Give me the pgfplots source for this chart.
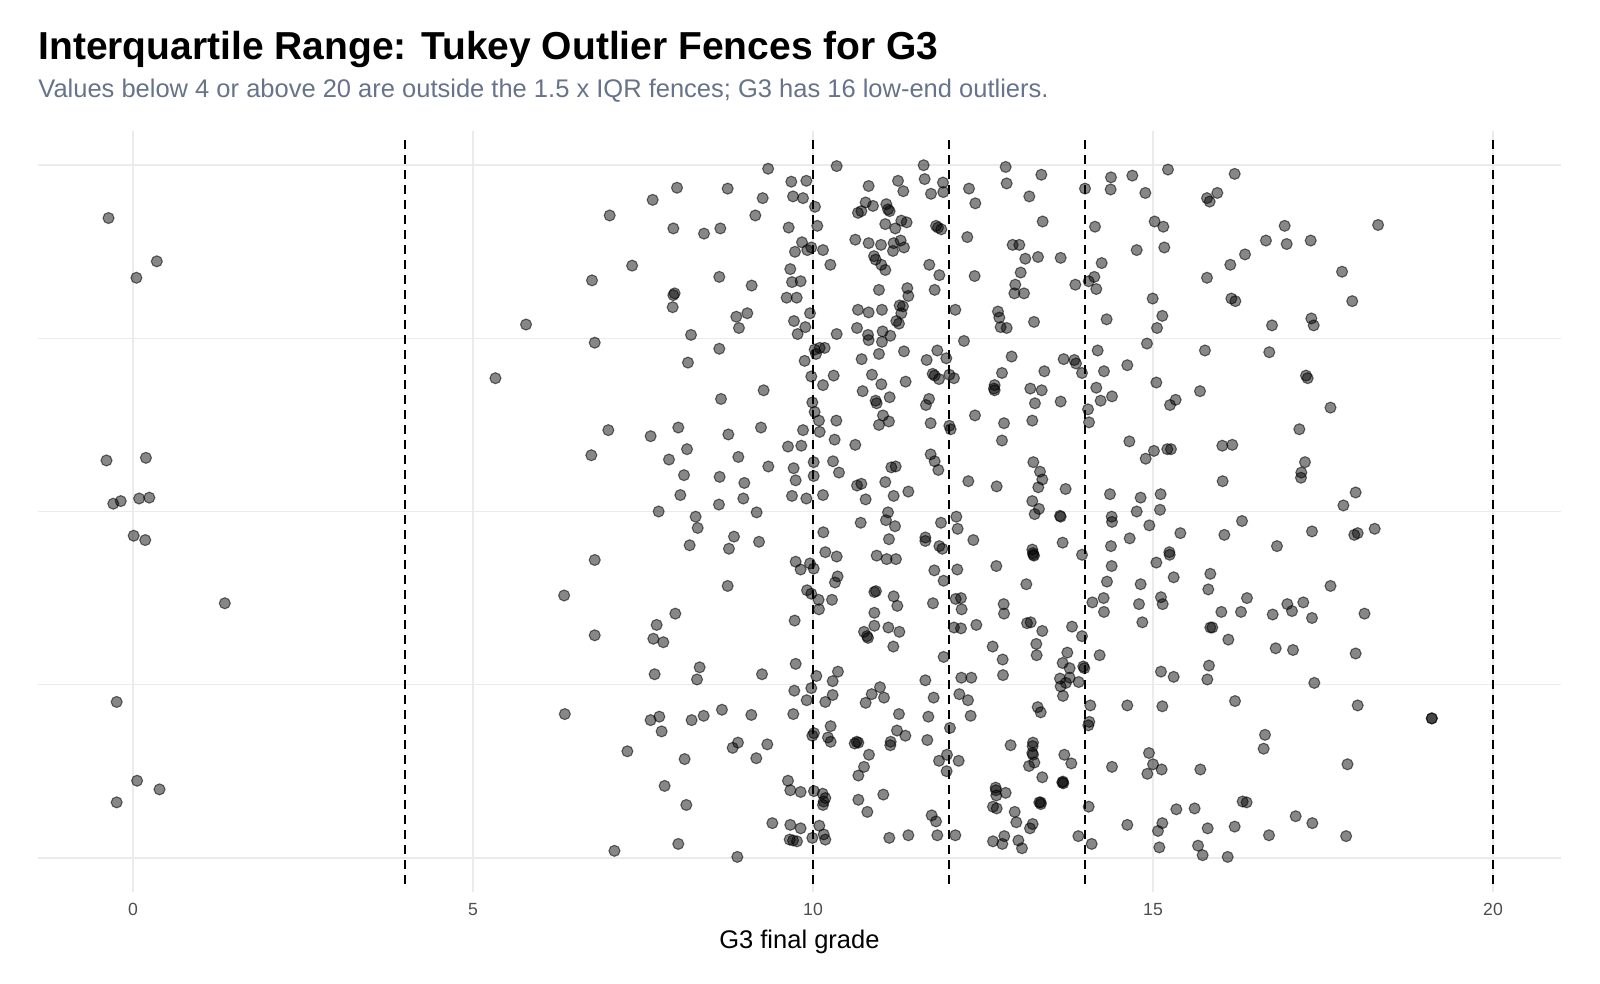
\documentclass[border=0pt]{standalone}
\usepackage{fontspec}
\setmainfont{Liberation Sans}
\usepackage{pgfplots}
\pgfplotsset{compat=1.18}
\usepackage{pgfplotstable}
\definecolor{gridc}{HTML}{EBEBEB}
\definecolor{subc}{HTML}{66738A}
\definecolor{tickc}{HTML}{4D4D4D}
\pgfplotstableread{
x y
-0.36 1.339
0.35 1.289
0.05 1.270
0.19 1.062
-0.39 1.059
-0.29 1.009
-0.18 1.012
0.09 1.015
0.24 1.016
0.01 0.972
0.18 0.967
-0.24 0.780
0.06 0.689
0.39 0.679
-0.24 0.664
1.35 0.894
5.33 1.154
5.78 1.216
6.34 0.903
6.35 0.766
7.01 1.342
7.34 1.284
6.75 1.267
6.79 1.195
6.99 1.094
6.74 1.065
6.79 0.944
6.79 0.857
7.27 0.723
7.08 0.608
}\lowtab
\pgfplotstableread{
x y
9.34 1.396
8.00 1.374
8.745 1.373
7.642 1.360
9.26 1.362
9.152 1.342
7.946 1.327
8.397 1.321
8.637 1.327
8.622 1.271
9.098 1.261
7.965 1.252
7.946 1.250
7.936 1.236
8.872 1.225
9.034 1.229
8.911 1.212
8.206 1.204
8.622 1.188
8.161 1.172
8.647 1.130
9.274 1.140
8.019 1.097
7.612 1.087
8.755 1.089
9.235 1.097
8.147 1.072
7.882 1.060
8.902 1.063
9.343 1.052
8.103 1.042
8.627 1.040
8.99 1.033
8.049 1.019
8.617 1.008
8.975 1.015
7.73 1.000
8.274 0.994
9.171 0.999
8.304 0.981
8.838 0.971
8.186 0.961
8.764 0.957
9.206 0.965
8.745 0.914
7.975 0.882
7.701 0.869
7.652 0.853
7.799 0.849
7.671 0.812
8.333 0.820
8.294 0.806
9.25 0.812
7.612 0.759
7.740 0.763
8.215 0.759
8.392 0.764
8.661 0.771
9.093 0.765
7.774 0.746
8.818 0.727
8.897 0.733
9.328 0.731
8.112 0.714
9.166 0.715
7.818 0.683
8.137 0.661
9.402 0.640
8.019 0.616
8.887 0.601
}\gaeighttab
\pgfplotstableread{
x y
10.348 1.399
9.681 1.381
9.902 1.382
9.706 1.364
9.853 1.362
10.029 1.352
9.642 1.328
10.063 1.330
9.838 1.311
9.975 1.305
9.916 1.302
9.735 1.300
10.147 1.302
10.255 1.285
9.666 1.280
9.691 1.265
9.818 1.266
9.612 1.247
9.760 1.247
9.956 1.229
9.720 1.220
9.887 1.213
9.774 1.205
10.348 1.205
10.024 1.187
10.098 1.189
10.171 1.189
10.044 1.182
9.877 1.174
9.975 1.156
10.304 1.157
10.147 1.146
9.99 1.126
10.024 1.115
10.088 1.105
10.343 1.105
9.853 1.094
10.098 1.092
9.632 1.075
9.828 1.076
10.318 1.083
10.01 1.057
10.294 1.058
9.715 1.050
10.382 1.045
9.745 1.036
10.01 1.041
9.691 1.018
9.902 1.015
10.147 1.019
10.152 0.976
10.181 0.953
10.348 0.948
9.745 0.942
9.956 0.940
9.818 0.933
10.01 0.934
10.362 0.925
10.323 0.918
9.912 0.909
9.975 0.905
10.083 0.898
10.279 0.898
10.088 0.887
9.73 0.874
9.745 0.824
10.049 0.810
10.367 0.815
10.289 0.804
9.725 0.793
9.975 0.796
9.907 0.782
10.181 0.780
10.289 0.788
9.71 0.766
10.259 0.752
10.014 0.744
9.99 0.741
10.22 0.739
10.259 0.734
9.632 0.689
9.666 0.678
9.818 0.676
10.014 0.677
10.142 0.674
10.181 0.669
10.157 0.665
10.147 0.661
9.666 0.638
9.818 0.634
10.093 0.637
10.157 0.627
10.181 0.621
9.99 0.623
9.657 0.621
9.706 0.620
9.764 0.619
}\gtentab
\pgfplotstableread{
x y
10.818 1.376
11.25 1.382
11.328 1.370
10.774 1.357
10.882 1.353
11.078 1.355
10.661 1.345
10.711 1.347
11.103 1.349
11.127 1.347
11.299 1.336
11.377 1.334
11.063 1.332
11.21 1.327
10.622 1.314
10.818 1.310
11.0 1.308
11.186 1.310
11.289 1.313
11.338 1.305
11.176 1.301
10.897 1.295
10.921 1.291
11.005 1.285
11.063 1.279
10.97 1.256
11.387 1.258
11.402 1.249
10.661 1.233
10.818 1.230
11.014 1.233
11.274 1.238
11.323 1.237
11.299 1.229
11.225 1.220
11.264 1.217
10.647 1.212
10.809 1.204
10.818 1.198
11.024 1.208
11.137 1.203
11.014 1.196
10.715 1.176
10.97 1.182
11.338 1.185
10.867 1.158
11.005 1.147
11.362 1.150
10.73 1.139
10.921 1.128
10.936 1.125
11.127 1.132
11.029 1.111
11.117 1.104
10.97 1.100
10.622 1.077
11.152 1.051
11.216 1.052
10.647 1.030
10.711 1.032
11.063 1.034
10.774 1.014
11.186 1.018
11.402 1.023
11.103 0.999
11.073 0.990
10.701 0.987
11.206 0.983
11.117 0.968
10.936 0.949
11.083 0.945
11.22 0.945
10.902 0.907
10.926 0.908
11.186 0.902
11.24 0.891
10.902 0.883
10.902 0.868
11.108 0.866
11.27 0.861
10.75 0.861
10.794 0.856
10.809 0.854
11.181 0.844
10.985 0.797
10.863 0.789
11.044 0.785
10.774 0.779
11.264 0.766
11.235 0.747
11.358 0.741
10.642 0.734
10.667 0.733
10.613 0.732
11.142 0.734
11.137 0.730
10.823 0.719
10.75 0.705
10.667 0.695
11.034 0.673
10.667 0.667
10.799 0.653
11.122 0.623
11.402 0.626
}\gelevtab
\pgfplotstableread{
x y
11.627 1.400
11.642 1.384
11.911 1.380
11.735 1.367
11.916 1.369
12.294 1.373
12.387 1.356
11.809 1.330
11.838 1.328
11.887 1.326
12.269 1.317
11.71 1.285
11.858 1.273
12.377 1.272
11.789 1.256
12.093 1.233
12.22 1.197
11.828 1.186
11.671 1.175
11.96 1.177
11.76 1.159
11.789 1.157
11.853 1.153
12.005 1.158
12.073 1.154
11.706 1.130
11.661 1.123
12.382 1.111
11.73 1.102
12.005 1.099
12.024 1.095
11.73 1.066
11.789 1.058
11.843 1.048
12.284 1.035
12.108 0.994
11.882 0.987
12.127 0.980
11.652 0.970
11.652 0.966
12.358 0.967
11.858 0.960
11.902 0.957
11.784 0.932
12.122 0.933
11.921 0.920
11.764 0.894
12.098 0.899
12.176 0.900
12.186 0.887
12.073 0.866
12.176 0.865
12.402 0.869
11.921 0.832
11.652 0.805
12.181 0.808
12.328 0.808
12.152 0.789
12.279 0.782
11.774 0.785
11.696 0.763
12.318 0.764
12.014 0.750
11.681 0.736
11.97 0.719
11.853 0.712
12.142 0.712
11.965 0.700
11.745 0.649
11.809 0.642
11.828 0.626
12.093 0.626
}\gtwetab
\pgfplotstableread{
x y
12.833 1.398
13.358 1.389
12.848 1.379
13.181 1.364
13.377 1.335
12.936 1.308
13.034 1.308
13.122 1.292
13.309 1.294
13.054 1.276
12.975 1.262
12.961 1.252
13.103 1.252
12.72 1.231
12.74 1.224
12.759 1.213
12.848 1.212
13.25 1.219
12.921 1.179
12.779 1.160
13.402 1.162
12.671 1.146
12.661 1.142
12.671 1.140
13.196 1.142
13.363 1.140
13.264 1.125
12.809 1.102
13.225 1.105
12.779 1.082
13.24 1.057
13.338 1.046
13.372 1.037
13.313 1.028
12.701 1.029
13.225 1.012
13.323 1.003
13.26 0.997
12.696 0.937
13.137 0.916
13.225 0.956
13.235 0.952
13.25 0.949
13.24 0.950
12.804 0.893
12.809 0.882
13.147 0.871
13.201 0.872
13.372 0.862
12.642 0.844
12.789 0.829
13.284 0.847
13.289 0.834
12.794 0.811
13.304 0.774
13.348 0.768
12.906 0.730
13.235 0.733
13.23 0.729
13.225 0.721
13.235 0.719
13.255 0.710
13.176 0.706
13.372 0.693
12.686 0.681
12.69 0.678
12.696 0.672
12.833 0.675
12.647 0.659
12.701 0.657
13.328 0.664
13.348 0.664
13.35 0.662
12.966 0.653
12.99 0.641
13.23 0.639
13.191 0.634
12.647 0.619
12.784 0.616
12.813 0.625
13.02 0.620
13.073 0.611
}\gthirtab
\pgfplotstableread{
x y
14.382 1.386
14.0 1.373
14.377 1.372
14.147 1.329
13.642 1.293
14.245 1.287
14.137 1.271
14.054 1.266
13.858 1.262
14.166 1.257
14.318 1.222
14.186 1.186
13.686 1.176
13.843 1.175
13.868 1.171
13.956 1.160
14.279 1.162
14.166 1.143
13.642 1.127
14.23 1.128
14.397 1.133
14.044 1.118
14.059 1.103
13.715 1.026
14.367 1.020
13.632 0.995
13.642 0.994
14.392 0.994
14.397 0.988
13.671 0.964
14.382 0.960
13.956 0.950
14.392 0.937
14.323 0.919
14.274 0.900
14.108 0.895
14.279 0.884
13.809 0.867
13.956 0.856
13.74 0.837
14.215 0.834
13.671 0.825
13.774 0.819
13.975 0.821
13.99 0.819
13.632 0.807
13.774 0.808
13.72 0.802
13.642 0.798
13.907 0.803
13.676 0.787
14.078 0.776
14.063 0.757
14.049 0.753
13.696 0.719
13.799 0.709
14.397 0.705
13.666 0.687
13.681 0.686
13.675 0.688
14.054 0.659
13.902 0.625
14.098 0.616
}\gfourtab
\pgfplotstableread{
x y
14.696 1.388
15.22 1.395
14.887 1.368
15.024 1.335
15.152 1.329
14.76 1.302
15.166 1.305
14.995 1.246
15.137 1.226
15.059 1.212
14.911 1.194
14.622 1.169
15.049 1.149
15.25 1.123
15.333 1.129
14.652 1.081
15.014 1.070
14.892 1.061
15.21 1.072
15.264 1.072
14.818 1.016
15.112 1.020
14.76 1.000
15.103 1.002
14.946 0.984
14.657 0.969
15.402 0.975
15.24 0.953
15.245 0.950
15.049 0.941
15.304 0.924
14.818 0.916
15.117 0.901
15.142 0.893
14.794 0.893
14.843 0.872
15.117 0.815
15.304 0.809
14.622 0.776
15.137 0.775
14.941 0.721
15.0 0.708
14.917 0.697
15.127 0.702
15.343 0.656
14.622 0.638
15.137 0.640
15.073 0.631
15.093 0.612
}\gfiftab
\pgfplotstableread{
x y
16.201 1.390
15.946 1.368
15.794 1.362
15.833 1.358
16.353 1.297
16.137 1.285
15.794 1.270
16.152 1.246
16.211 1.243
15.764 1.186
15.691 1.139
16.019 1.076
16.166 1.077
16.024 1.035
16.309 0.989
16.049 0.973
15.843 0.928
15.813 0.910
16.382 0.900
16.005 0.884
16.294 0.884
15.843 0.866
15.872 0.866
16.108 0.852
15.823 0.822
15.799 0.806
16.206 0.781
15.696 0.702
16.318 0.665
16.377 0.664
15.612 0.657
15.804 0.634
16.201 0.636
15.662 0.614
15.73 0.603
16.098 0.601
16.936 1.330
16.661 1.313
16.966 1.309
17.319 1.313
17.328 1.223
17.363 1.215
16.75 1.215
16.71 1.184
17.25 1.157
17.274 1.154
17.152 1.095
17.235 1.057
17.181 1.045
17.176 1.039
17.338 0.977
16.823 0.960
16.975 0.893
17.21 0.895
17.044 0.885
16.76 0.881
17.338 0.877
16.804 0.842
17.059 0.840
17.372 0.802
16.647 0.742
16.627 0.726
17.098 0.648
17.343 0.640
16.706 0.626
18.31 1.331
17.78 1.277
17.93 1.243
17.61 1.120
17.80 1.007
17.98 1.022
18.26 0.980
18.01 0.975
17.96 0.973
17.61 0.914
18.11 0.882
17.98 0.836
18.01 0.776
17.86 0.708
17.84 0.625
19.10 0.761
19.10 0.761
}\ghightab
\begin{document}
\begin{tikzpicture}
\useasboundingbox (0,0) rectangle (800pt,492pt);
\node[anchor=base west, inner sep=0pt, font=\fontsize{19.5}{23}\selectfont\bfseries] at (19pt,462.4pt) {Interquartile Range: Tukey Outlier Fences for G3};
\node[anchor=base west, inner sep=0pt, font=\fontsize{12.75}{15}\selectfont, text=subc] at (19pt,443pt) {Values below 4 or above 20 are outside the 1.5 x IQR fences; G3 has 16 low-end outliers.};
\begin{axis}[
 at={(18.9pt,45.8pt)}, anchor=south west, scale only axis,
 width=761.6pt, height=380.9pt,
 xmin=-1.4, xmax=21, ymin=0.56, ymax=1.44,
 xtick={0,5,10,15,20}, xticklabels={0,5,10,15,20},
 ytick={0.6,0.8,1,1.2,1.4}, yticklabels={},
 grid=major, grid style={gridc, line width=0.75pt},
 axis line style={draw=none}, major tick length=0pt,
 xticklabel style={font=\fontsize{8.8}{10.5}\selectfont, text=tickc, yshift=-2.0pt},
 xlabel={G3 final grade},
 xlabel style={at={(axis description cs:0.5,0)}, anchor=base, yshift=-28.3pt, font=\fontsize{12.75}{15}\selectfont},
 clip=false,
]
\pgfplotsset{pts/.style={only marks, mark=*, mark size=2.75pt, mark options={fill=black, fill opacity=0.47, draw=black, draw opacity=0.55, line width=0.55pt}}}
\addplot[pts] table[x=x,y=y] {\lowtab};
\addplot[pts] table[x=x,y=y] {\gaeighttab};
\addplot[pts] table[x=x,y=y] {\gtentab};
\addplot[pts] table[x=x,y=y] {\gelevtab};
\addplot[pts] table[x=x,y=y] {\gtwetab};
\addplot[pts] table[x=x,y=y] {\gthirtab};
\addplot[pts] table[x=x,y=y] {\gfourtab};
\addplot[pts] table[x=x,y=y] {\gfiftab};
\addplot[pts] table[x=x,y=y] {\ghightab};
\pgfplotsset{fence/.style={black, line width=1pt, dash pattern=on 4.5pt off 3pt, mark=none}}
\addplot[fence] coordinates {(4,0.57) (4,1.43)};
\addplot[fence] coordinates {(10,0.57) (10,1.43)};
\addplot[fence] coordinates {(12,0.57) (12,1.43)};
\addplot[fence] coordinates {(14,0.57) (14,1.43)};
\addplot[fence] coordinates {(20,0.57) (20,1.43)};
\end{axis}
\end{tikzpicture}
\end{document}
